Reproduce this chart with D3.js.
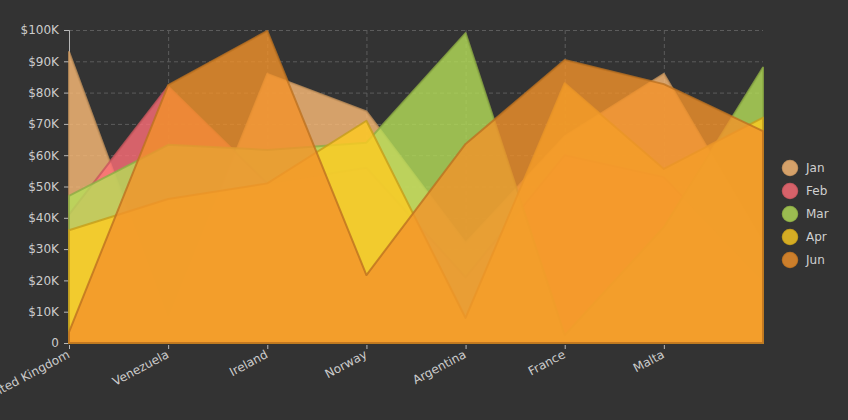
<!DOCTYPE html>
<html>
<head>
<meta charset="utf-8">
<script src="https://cdn.jsdelivr.net/npm/d3@7"></script>
<style>
  html, body { margin: 0; padding: 0; background: #333333; }
  svg { display: block; font-family: "DejaVu Sans", Verdana, sans-serif; }
</style>
</head>
<body>
<svg id="chart" width="848" height="420"></svg>
<script>
// categories (last point has no label)
var categories = ["United Kingdom", "Venezuela", "Ireland", "Norway", "Argentina", "France", "Malta", ""];
var seriesNames = ["Jan", "Feb", "Mar", "Apr", "Jun"];
var seriesColors = ["#febd78", "#ff6e78", "#b5de59", "#fecb22", "#f3922a"];

var jan = [93000, 7500, 86000, 74000, 32000, 66000, 86000, 32000];
var feb = [41000, 82000, 51000, 56000, 21000, 60000, 53000, 20000];
var mar = [47000, 63300, 61700, 64000, 99000, 2500, 37000, 88000];
var apr = [36000, 46000, 51000, 71000, 8000, 83000, 55600, 72000];
var jun = [3500, 82400, 99700, 21700, 63600, 90400, 82700, 67700];

var yTicks = [0, 10000, 20000, 30000, 40000, 50000, 60000, 70000, 80000, 90000, 100000];

var allSeries = [jan, feb, mar, apr, jun];

var svg = d3.select("#chart"),
    margin = {top: 30, right: 85, bottom: 77, left: 69},
    width = svg.attr("width") - margin.left - margin.right,
    height = svg.attr("height") - margin.top - margin.bottom;

var x = d3.scalePoint().domain(d3.range(categories.length)).range([0, width]),
    y = d3.scaleLinear().domain([0, 100000]).range([height, 0]);

var g = svg.append("g")
    .attr("transform", "translate(" + margin.left + "," + margin.top + ")");

// grid
g.selectAll(".hgrid")
  .data(yTicks.slice(1))
  .enter().append("line")
    .attr("x1", 0).attr("x2", width)
    .attr("y1", function(d) { return y(d) + 0.5; })
    .attr("y2", function(d) { return y(d) + 0.5; })
    .attr("stroke", "#5c5c5c")
    .attr("stroke-dasharray", "4,3");

g.selectAll(".vgrid")
  .data(d3.range(1, categories.length - 1))
  .enter().append("line")
    .attr("x1", function(d) { return x(d) + 0.5; })
    .attr("x2", function(d) { return x(d) + 0.5; })
    .attr("y1", 0).attr("y2", height)
    .attr("stroke", "#5c5c5c")
    .attr("stroke-dasharray", "4,3");

// axes
var yAxis = g.append("g")
  .call(d3.axisLeft(y).tickValues(yTicks).tickSize(5).tickPadding(5)
    .tickFormat(function(d) { return d === 0 ? "0" : "$" + (d / 1000) + "K"; }));
yAxis.select(".domain").attr("stroke", "#b8b8b8");
yAxis.selectAll(".tick line").attr("stroke", "#b8b8b8");
yAxis.selectAll("text")
  .attr("fill", "#cccccc")
  .attr("font-size", "12px")
  .attr("font-family", "DejaVu Sans, Verdana, sans-serif");

var labelled = d3.range(categories.length).filter(function(i) { return categories[i] !== ""; });

var xAxis = g.append("g")
  .attr("transform", "translate(0," + height + ")")
  .call(d3.axisBottom(x).tickValues(labelled).tickSize(6).tickSizeOuter(0)
    .tickFormat(function(i) { return categories[i]; }));
xAxis.select(".domain").attr("stroke", "#b8b8b8");
xAxis.selectAll(".tick line").attr("stroke", "#b8b8b8").attr("y1", 2);
xAxis.selectAll("text")
  .attr("fill", "#cccccc")
  .attr("font-size", "12px")
  .attr("font-family", "DejaVu Sans, Verdana, sans-serif")
  .attr("text-anchor", "end")
  .attr("y", 0)
  .attr("dy", 0)
  .attr("transform", "translate(1,14) rotate(-28)");

// areas
var area = d3.area()
  .x(function(d, i) { return x(i); })
  .y0(y(0))
  .y1(function(d) { return y(d); });

g.selectAll(".area")
  .data(allSeries)
  .enter().append("path")
    .attr("class", "area")
    .attr("d", function(d) { return area(d) + "Z"; })
    .attr("fill", function(d, i) { return seriesColors[i]; })
    .attr("fill-opacity", 0.8)
    .attr("stroke", function(d, i) { return d3.color(seriesColors[i]).darker(0.7); })
    .attr("stroke-opacity", 0.8)
    .attr("stroke-width", 2)
    .attr("stroke-linejoin", "round");

// legend
var legend = svg.append("g")
  .attr("transform", "translate(790,168)");

var items = legend.selectAll(".item")
  .data(seriesNames)
  .enter().append("g")
    .attr("class", "item")
    .attr("transform", function(d, i) { return "translate(0," + (i * 23) + ")"; });

items.append("circle")
  .attr("r", 7.5)
  .attr("fill", function(d, i) { return seriesColors[i]; })
  .attr("fill-opacity", 0.8)
  .attr("stroke", function(d, i) { return d3.color(seriesColors[i]).darker(0.5); })
  .attr("stroke-opacity", 0.8)
  .attr("stroke-width", 1.5);

items.append("text")
  .attr("x", 16)
  .attr("dy", "0.35em")
  .attr("fill", "#d0d0d0")
  .attr("font-size", "12px")
  .text(function(d) { return d; });
</script>
</body>
</html>
